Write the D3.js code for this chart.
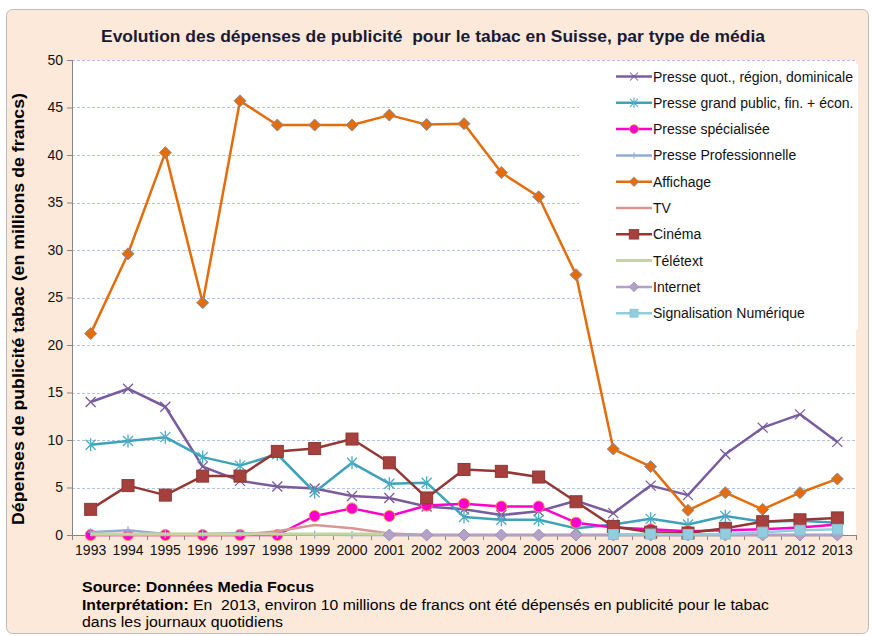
<!DOCTYPE html>
<meta charset="utf-8">
<style>

body {
  margin: 0;
  background: #fff;
}

svg {
  font-family: "Liberation Sans", Arial, sans-serif;
  display: block;
}

text {
  white-space: pre;
}

</style>
<body>
<script src="https://cdn.jsdelivr.net/npm/d3@7"></script>
<script>

// categories
var years = ["1993", "1994", "1995", "1996", "1997", "1998", "1999", "2000", "2001", "2002", "2003",
             "2004", "2005", "2006", "2007", "2008", "2009", "2010", "2011", "2012", "2013"];

// dépenses en millions de francs, par type de média (null = pas de donnée)
var presseQuot    = [14.0, 15.4, 13.5, 7.2, 5.7, 5.1, 4.9, 4.1, 3.9, 3.0, 2.7, 2.1, 2.5, 3.6, 2.3, 5.2, 4.2, 8.5, 11.3, 12.7, 9.8];
var presseGrand   = [9.5, 9.9, 10.3, 8.2, 7.3, 8.5, 4.5, 7.6, 5.4, 5.5, 1.9, 1.6, 1.6, 0.7, 1.1, 1.7, 1.1, 2.0, 1.4, 1.5, 1.3];
var presseSpec    = [0, 0, 0, 0, 0, 0, 2.0, 2.8, 2.0, 3.1, 3.3, 3.0, 3.0, 1.3, 0.8, 0.6, 0.4, 0.5, 0.6, 0.8, 1.1];
var presseProf    = [0.3, 0.5, 0.1, 0.1, 0.2, 0.1, 0.05, 0, 0, 0, 0, 0, 0, 0, 0, 0, 0, 0, 0, 0, 0];
var affichage     = [21.2, 29.6, 40.25, 24.45, 45.7, 43.15, 43.15, 43.15, 44.2, 43.2, 43.3, 38.15, 35.6, 27.4, 9.05, 7.2, 2.6, 4.45, 2.7, 4.45, 5.9];
var tv            = [0, 0, 0, 0, 0, 0.4, 1.05, 0.7, 0.15, 0, 0, 0, 0, 0, 0, 0, 0, 0, 0, 0, 0];
var cinema        = [2.7, 5.2, 4.2, 6.2, 6.2, 8.8, 9.1, 10.1, 7.6, 3.9, 6.9, 6.7, 6.1, 3.5, 0.9, 0.3, 0.2, 0.7, 1.4, 1.6, 1.8];
var teletext      = [0.1, 0.1, 0.1, 0.1, 0.1, 0.1, 0.1, 0.1, 0.1, null, null, null, null, null, null, null, null, null, null, null, null];
var internet      = [null, null, null, null, null, null, null, null, 0, 0, 0, 0, 0, 0, 0, 0, 0, 0, 0, 0, 0];
var signalisation = [null, null, null, null, null, null, null, null, null, null, null, null, null, null, 0.05, 0.1, 0.05, 0.1, 0.3, 0.5, 0.6];

var yTicks = [0, 5, 10, 15, 20, 25, 30, 35, 40, 45, 50];

var series = [
  {name: "Presse quot., région, dominicale", values: presseQuot, color: "#7a5c9e", marker: "x"},
  {name: "Presse grand public, fin. + écon.", values: presseGrand, color: "#3ea2b9", marker: "star"},
  {name: "Presse spécialisée", values: presseSpec, color: "#ff00cc", marker: "circle"},
  {name: "Presse Professionnelle", values: presseProf, color: "#93abd6", marker: "plus"},
  {name: "Affichage", values: affichage, color: "#e46c0a", marker: "diamond"},
  {name: "TV", values: tv, color: "#d99694", marker: null},
  {name: "Cinéma", values: cinema, color: "#953735", marker: "square"},
  {name: "Télétext", values: teletext, color: "#c3d69b", marker: null},
  {name: "Internet", values: internet, color: "#b3a2c7", marker: "diamond"},
  {name: "Signalisation Numérique", values: signalisation, color: "#93cddd", marker: "squareSmall"}
];

var width = 872, height = 636,
    plotLeft = 72, plotRight = 856, plotTop = 60, plotBottom = 535;

var svg = d3.select("body").append("svg")
    .attr("width", width)
    .attr("height", height);

svg.append("rect")
    .attr("x", 6.5)
    .attr("y", 9.5)
    .attr("width", 862)
    .attr("height", 624)
    .attr("rx", 6)
    .attr("fill", "#fde9d9")
    .attr("stroke", "#bcbcbc");

var xBand = d3.scaleBand().domain(years).range([plotLeft, plotRight]);
var x = function(d) { return xBand(d) + xBand.bandwidth() / 2; };
var y = d3.scaleLinear().domain([0, 50]).range([plotBottom, plotTop]);

svg.append("rect")
    .attr("x", plotLeft)
    .attr("y", plotTop)
    .attr("width", plotRight - plotLeft)
    .attr("height", plotBottom - plotTop)
    .attr("fill", "#fff");

// gridlines
svg.append("g")
  .selectAll("line")
  .data(yTicks.filter(function(d) { return d > 0; }))
  .enter().append("line")
    .attr("x1", plotLeft)
    .attr("x2", plotRight)
    .attr("y1", function(d) { return Math.round(y(d)) + 0.5; })
    .attr("y2", function(d) { return Math.round(y(d)) + 0.5; })
    .attr("stroke", "#afc2ea")
    .attr("stroke-dasharray", "3,2");

// legend background
svg.append("rect")
    .attr("x", 579)
    .attr("y", 64)
    .attr("width", 279)
    .attr("height", 266)
    .attr("fill", "#fff");

// y axis
var yAxis = svg.append("g")
    .attr("transform", "translate(" + plotLeft + ",0)")
    .call(d3.axisLeft(y).tickValues(yTicks).tickSize(5).tickPadding(4));
yAxis.select(".domain").attr("stroke", "#868686").attr("d", "M0.5," + plotTop + "V" + (plotBottom + 0.5));
yAxis.selectAll(".tick line").attr("stroke", "#868686");
yAxis.selectAll(".tick text")
    .attr("font-size", 14)
    .attr("font-family", "Liberation Sans, Arial, sans-serif")
    .attr("fill", "#111");

// x axis
var xAxis = svg.append("g")
    .attr("transform", "translate(0," + plotBottom + ")")
    .call(d3.axisBottom(xBand).tickSize(0).tickPadding(10));
xAxis.select(".domain").attr("stroke", "#868686").attr("d", "M" + plotLeft + ",0.5H" + plotRight);
xAxis.selectAll(".tick text")
    .attr("font-size", 14)
    .attr("font-family", "Liberation Sans, Arial, sans-serif")
    .attr("fill", "#111");
xAxis.append("g")
  .selectAll("line")
  .data(years.map(function(d) { return xBand(d); }).concat([plotRight]))
  .enter().append("line")
    .attr("x1", function(d) { return Math.round(d) + 0.5; })
    .attr("x2", function(d) { return Math.round(d) + 0.5; })
    .attr("y1", 0)
    .attr("y2", 5)
    .attr("stroke", "#868686");

function drawMarker(g, type, color) {
  if (type === "x") {
    g.append("path").attr("d", "M-5,-5L5,5M-5,5L5,-5")
        .attr("stroke", color).attr("stroke-width", 1.3).attr("fill", "none");
  } else if (type === "star") {
    g.append("path").attr("d", "M-5,-5L5,5M-5,5L5,-5M0,-6.5L0,6.5")
        .attr("stroke", "#4bacc6").attr("stroke-width", 1.3).attr("fill", "none");
  } else if (type === "circle") {
    g.append("circle").attr("r", 5.5)
        .attr("fill", "#ff00cc").attr("stroke", "#f79646").attr("stroke-width", 1);
  } else if (type === "plus") {
    g.append("path").attr("d", "M0,-4L0,4M-3,0L3,0")
        .attr("stroke", color).attr("stroke-width", 1.3);
  } else if (type === "diamond") {
    g.append("path").attr("d", "M0,-6L6,0L0,6L-6,0Z")
        .attr("fill", color).attr("stroke", color === "#e46c0a" ? "#7f8fa9" : "#9e90b8").attr("stroke-width", 1);
  } else if (type === "square") {
    g.append("rect").attr("x", -6).attr("y", -6).attr("width", 12).attr("height", 12)
        .attr("fill", "#a5403d").attr("stroke", "#8c3836").attr("stroke-width", 1);
  } else if (type === "squareSmall") {
    g.append("rect").attr("x", -5).attr("y", -5).attr("width", 10).attr("height", 10)
        .attr("fill", "#93cddd").attr("stroke", "#86c0d2").attr("stroke-width", 1);
  }
}

var line = d3.line()
    .defined(function(d) { return d.v != null; })
    .x(function(d) { return x(d.year); })
    .y(function(d) { return y(d.v); });

series.forEach(function(s) {
  var pts = s.values.map(function(v, i) { return {year: years[i], v: v}; });
  var g = svg.append("g");
  g.append("path")
      .attr("fill", "none")
      .attr("stroke", s.color)
      .attr("stroke-width", s.name === "Télétext" ? 3 : 2.5)
      .attr("stroke-linejoin", "round")
      .attr("d", line(pts));
  if (s.marker) {
    pts.filter(function(d) { return d.v != null; }).forEach(function(d) {
      drawMarker(g.append("g").attr("transform", "translate(" + x(d.year) + "," + y(d.v) + ")"), s.marker, s.color);
    });
  }
});

// legend
var legend = svg.append("g")
  .selectAll("g")
  .data(series)
  .enter().append("g")
    .attr("transform", function(d, i) { return "translate(616," + (76.5 + i * 26.3) + ")"; });

legend.append("line")
    .attr("x1", 0)
    .attr("x2", 36)
    .attr("stroke", function(d) { return d.color; })
    .attr("stroke-width", function(d) { return d.name === "Télétext" ? 3 : 2.5; });

legend.each(function(d) {
  if (d.marker) drawMarker(d3.select(this).append("g").attr("transform", "translate(18,0) scale(0.8)"), d.marker, d.color);
});

legend.append("text")
    .attr("x", 37)
    .attr("y", 5)
    .attr("font-size", 14)
    .attr("fill", "#111")
    .text(function(d) { return d.name; });

// title
svg.append("text")
    .attr("x", 101)
    .attr("y", 42)
    .attr("font-size", 17)
    .attr("font-weight", "bold")
    .attr("fill", "#1a1a33")
    .attr("textLength", 664)
    .attr("lengthAdjust", "spacingAndGlyphs")
    .text("Evolution des dépenses de publicité  pour le tabac en Suisse, par type de média");

// y axis title
svg.append("text")
    .attr("transform", "translate(24,309) rotate(-90)")
    .attr("text-anchor", "middle")
    .attr("font-size", 16)
    .attr("font-weight", "bold")
    .attr("fill", "#000")
    .attr("textLength", 432)
    .attr("lengthAdjust", "spacingAndGlyphs")
    .text("Dépenses de publicité tabac (en millions de francs)");

// footer
svg.append("text")
    .attr("x", 82)
    .attr("y", 592)
    .attr("font-size", 14)
    .attr("font-weight", "bold")
    .attr("fill", "#000")
    .attr("textLength", 232)
    .attr("lengthAdjust", "spacingAndGlyphs")
    .text("Source: Données Media Focus");

var interp = svg.append("text")
    .attr("x", 82)
    .attr("y", 610)
    .attr("font-size", 14)
    .attr("fill", "#000")
    .attr("textLength", 687)
    .attr("lengthAdjust", "spacingAndGlyphs");
interp.append("tspan").attr("font-weight", "bold").text("Interprétation:");
interp.append("tspan").text(" En  2013, environ 10 millions de francs ont été dépensés en publicité pour le tabac");

svg.append("text")
    .attr("x", 82)
    .attr("y", 627)
    .attr("font-size", 14)
    .attr("fill", "#000")
    .attr("textLength", 201)
    .attr("lengthAdjust", "spacingAndGlyphs")
    .text("dans les journaux quotidiens");

</script>
